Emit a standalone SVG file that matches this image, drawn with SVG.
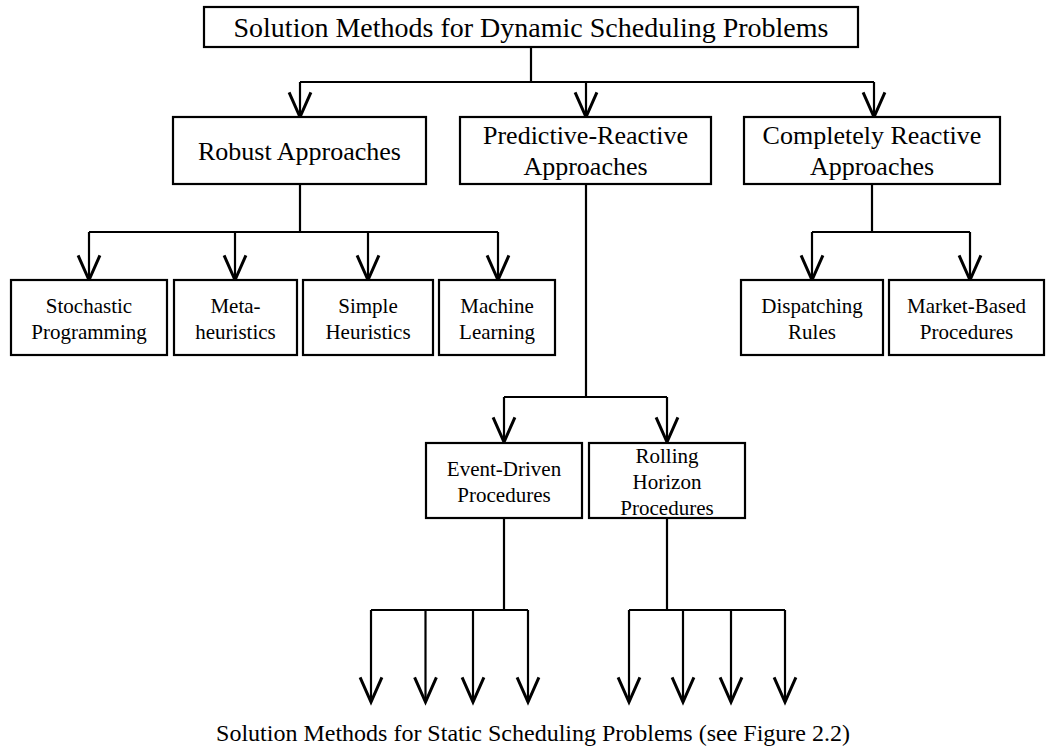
<svg xmlns="http://www.w3.org/2000/svg" width="1046" height="751" viewBox="0 0 1046 751">
<defs>
<style>
.box{fill:#fff;stroke:#000;stroke-width:2.2}
.t{font-family:"Liberation Serif","Times New Roman",serif;fill:#000;text-anchor:middle}
.l{font-size:26px}
.s{font-size:21px}
.c{fill:none;stroke:#000;stroke-width:2.2}
.a{fill:none;stroke:#000;stroke-width:2.2;marker-end:url(#arr)}
</style>
<marker id="arr" markerUnits="userSpaceOnUse" markerWidth="30" markerHeight="30" viewBox="-20 -10 22 20" refX="0" refY="0" orient="auto" overflow="visible">
<path d="M-18,-8 L0,0 L-18,8" fill="none" stroke="#000" stroke-width="2.2"/>
</marker>
</defs>
<rect width="1046" height="751" fill="#fff"/>
<g id="connectors">
<path class="c" d="M531,47 V82 M300,82 H874"/>
<path class="a" d="M300,82 V117"/>
<path class="a" d="M586,82 V117"/>
<path class="a" d="M874,82 V117"/>
<path class="c" d="M300,184 V232 M89,232 H498"/>
<path class="a" d="M89,232 V280"/>
<path class="a" d="M235,232 V280"/>
<path class="a" d="M368,232 V280"/>
<path class="a" d="M498,232 V280"/>
<path class="c" d="M872,184 V232 M812,232 H970"/>
<path class="a" d="M812,232 V280"/>
<path class="a" d="M970,232 V280"/>
<path class="c" d="M586,184 V397 M504,397 H667"/>
<path class="a" d="M504,397 V442"/>
<path class="a" d="M667,397 V442"/>
<path class="c" d="M504,518 V610 M371,610 H528"/>
<path class="a" d="M371,610 V702"/>
<path class="a" d="M425.5,610 V702"/>
<path class="a" d="M473,610 V702"/>
<path class="a" d="M528,610 V702"/>
<path class="c" d="M667,518 V610 M629,610 H785"/>
<path class="a" d="M629,610 V702"/>
<path class="a" d="M683,610 V702"/>
<path class="a" d="M731,610 V702"/>
<path class="a" d="M785,610 V702"/>
</g>
<g id="root">
<rect class="box" x="204" y="7" width="654" height="40"/>
<text class="t" x="531" y="36.5" font-size="28">Solution Methods for Dynamic Scheduling Problems</text>
</g>
<g id="robust">
<rect class="box" x="173" y="117" width="253" height="67"/>
<text class="t l" x="299.5" y="159.5">Robust Approaches</text>
</g>
<g id="predictive">
<rect class="box" x="460" y="117" width="251" height="67"/>
<text class="t l" x="585.5" y="144">Predictive-Reactive</text>
<text class="t l" x="585.5" y="175">Approaches</text>
</g>
<g id="reactive">
<rect class="box" x="744" y="117" width="256" height="67"/>
<text class="t l" x="872" y="144">Completely Reactive</text>
<text class="t l" x="872" y="175">Approaches</text>
</g>
<g id="stochastic">
<rect class="box" x="11" y="280" width="156" height="75"/>
<text class="t s" x="89" y="313">Stochastic</text>
<text class="t s" x="89" y="339">Programming</text>
</g>
<g id="meta">
<rect class="box" x="174" y="280" width="123" height="75"/>
<text class="t s" x="235.5" y="313">Meta-</text>
<text class="t s" x="235.5" y="339">heuristics</text>
</g>
<g id="simple">
<rect class="box" x="303" y="280" width="130" height="75"/>
<text class="t s" x="368" y="313">Simple</text>
<text class="t s" x="368" y="339">Heuristics</text>
</g>
<g id="machine">
<rect class="box" x="439" y="280" width="116" height="75"/>
<text class="t s" x="497" y="313">Machine</text>
<text class="t s" x="497" y="339">Learning</text>
</g>
<g id="dispatching">
<rect class="box" x="741" y="280" width="142" height="75"/>
<text class="t s" x="812" y="313">Dispatching</text>
<text class="t s" x="812" y="339">Rules</text>
</g>
<g id="market">
<rect class="box" x="889" y="280" width="155" height="75"/>
<text class="t s" x="966.5" y="313">Market-Based</text>
<text class="t s" x="966.5" y="339">Procedures</text>
</g>
<g id="event">
<rect class="box" x="426" y="443" width="156" height="75"/>
<text class="t s" x="504" y="476">Event-Driven</text>
<text class="t s" x="504" y="502">Procedures</text>
</g>
<g id="rolling">
<rect class="box" x="589" y="443" width="156" height="75"/>
<text class="t s" x="667" y="463">Rolling</text>
<text class="t s" x="667" y="489">Horizon</text>
<text class="t s" x="667" y="515">Procedures</text>
</g>
<g id="static">
<text class="t" x="533" y="741" font-size="24">Solution Methods for Static Scheduling Problems (see Figure 2.2)</text>
</g>
</svg>
